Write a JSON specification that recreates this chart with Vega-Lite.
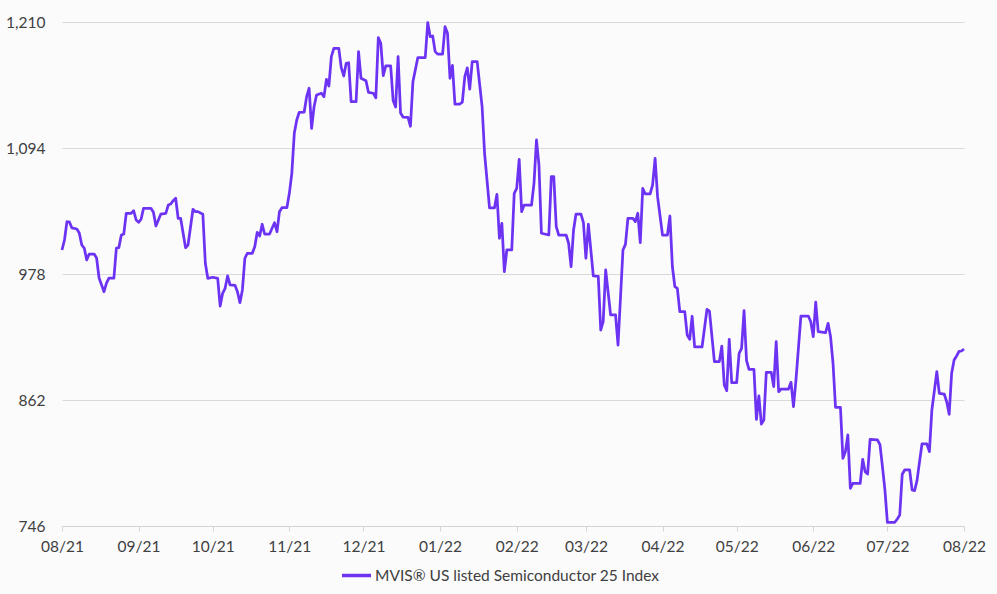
{
  "$schema": "https://vega.github.io/schema/vega-lite/v6.json",
  "width": 902,
  "height": 504,
  "autosize": {"type": "none"},
  "padding": {"left": 62, "top": 22, "right": 33, "bottom": 68},
  "background": "#fbfbfc",
  "config": {
    "view": {"stroke": null},
    "font": "Lato",
    "axis": {"labelFont": "Lato", "labelFontSize": 15.5, "labelColor": "#404040"},
    "legend": {"labelFont": "Lato", "labelFontSize": 15.5, "labelColor": "#404040", "labelLimit": 500}
  },
  "data": {
    "values": [
      {"date": "2021-08-01", "value": 1000.1},
      {"date": "2021-08-02", "value": 1009.3},
      {"date": "2021-08-03", "value": 1026.1},
      {"date": "2021-08-04", "value": 1025.9},
      {"date": "2021-08-05", "value": 1020.4},
      {"date": "2021-08-07", "value": 1019.4},
      {"date": "2021-08-08", "value": 1015.7},
      {"date": "2021-08-09", "value": 1004.7},
      {"date": "2021-08-10", "value": 1001.9},
      {"date": "2021-08-11", "value": 990.9},
      {"date": "2021-08-12", "value": 996.4},
      {"date": "2021-08-14", "value": 996.4},
      {"date": "2021-08-15", "value": 992.7},
      {"date": "2021-08-16", "value": 974.3},
      {"date": "2021-08-18", "value": 961.7},
      {"date": "2021-08-19", "value": 969.7},
      {"date": "2021-08-20", "value": 974.3},
      {"date": "2021-08-22", "value": 974.3},
      {"date": "2021-08-23", "value": 1001.9},
      {"date": "2021-08-24", "value": 1002.2},
      {"date": "2021-08-25", "value": 1013.9},
      {"date": "2021-08-26", "value": 1014.8},
      {"date": "2021-08-27", "value": 1033.9},
      {"date": "2021-08-29", "value": 1033.9},
      {"date": "2021-08-30", "value": 1036.3},
      {"date": "2021-08-31", "value": 1027.7},
      {"date": "2021-09-01", "value": 1025.6},
      {"date": "2021-09-02", "value": 1028.4},
      {"date": "2021-09-03", "value": 1038.5},
      {"date": "2021-09-06", "value": 1038.5},
      {"date": "2021-09-07", "value": 1034.8},
      {"date": "2021-09-08", "value": 1022.2},
      {"date": "2021-09-09", "value": 1027.7},
      {"date": "2021-09-10", "value": 1033.2},
      {"date": "2021-09-12", "value": 1033.9},
      {"date": "2021-09-13", "value": 1041.5},
      {"date": "2021-09-14", "value": 1042.4},
      {"date": "2021-09-15", "value": 1045.5},
      {"date": "2021-09-16", "value": 1047.7},
      {"date": "2021-09-17", "value": 1029.3},
      {"date": "2021-09-18", "value": 1029.3},
      {"date": "2021-09-20", "value": 1002.2},
      {"date": "2021-09-21", "value": 1004.7},
      {"date": "2021-09-23", "value": 1037.6},
      {"date": "2021-09-24", "value": 1035.4},
      {"date": "2021-09-25", "value": 1035.4},
      {"date": "2021-09-27", "value": 1033.0},
      {"date": "2021-09-28", "value": 987.9},
      {"date": "2021-09-29", "value": 974.0},
      {"date": "2021-10-01", "value": 975.0},
      {"date": "2021-10-03", "value": 974.0},
      {"date": "2021-10-04", "value": 948.5},
      {"date": "2021-10-05", "value": 960.2},
      {"date": "2021-10-06", "value": 964.8},
      {"date": "2021-10-07", "value": 976.2},
      {"date": "2021-10-08", "value": 967.9},
      {"date": "2021-10-10", "value": 967.6},
      {"date": "2021-10-11", "value": 961.7},
      {"date": "2021-10-12", "value": 951.6},
      {"date": "2021-10-13", "value": 963.3},
      {"date": "2021-10-14", "value": 992.5},
      {"date": "2021-10-15", "value": 997.1},
      {"date": "2021-10-17", "value": 997.1},
      {"date": "2021-10-18", "value": 1003.1},
      {"date": "2021-10-19", "value": 1016.4},
      {"date": "2021-10-20", "value": 1013.0},
      {"date": "2021-10-21", "value": 1023.8},
      {"date": "2021-10-22", "value": 1014.8},
      {"date": "2021-10-24", "value": 1014.8},
      {"date": "2021-10-25", "value": 1020.1},
      {"date": "2021-10-26", "value": 1025.2},
      {"date": "2021-10-27", "value": 1016.9},
      {"date": "2021-10-28", "value": 1035.4},
      {"date": "2021-10-29", "value": 1039.0},
      {"date": "2021-10-31", "value": 1039.0},
      {"date": "2021-11-01", "value": 1052.3},
      {"date": "2021-11-02", "value": 1070.7},
      {"date": "2021-11-03", "value": 1107.5},
      {"date": "2021-11-04", "value": 1119.8},
      {"date": "2021-11-05", "value": 1126.9},
      {"date": "2021-11-07", "value": 1127.1},
      {"date": "2021-11-08", "value": 1141.2},
      {"date": "2021-11-09", "value": 1149.0},
      {"date": "2021-11-10", "value": 1112.1},
      {"date": "2021-11-11", "value": 1132.0},
      {"date": "2021-11-12", "value": 1142.8},
      {"date": "2021-11-14", "value": 1144.4},
      {"date": "2021-11-15", "value": 1141.2},
      {"date": "2021-11-16", "value": 1157.2},
      {"date": "2021-11-17", "value": 1151.1},
      {"date": "2021-11-18", "value": 1178.1},
      {"date": "2021-11-19", "value": 1185.8},
      {"date": "2021-11-21", "value": 1185.8},
      {"date": "2021-11-22", "value": 1168.0},
      {"date": "2021-11-23", "value": 1160.3},
      {"date": "2021-11-24", "value": 1172.0},
      {"date": "2021-11-25", "value": 1172.5},
      {"date": "2021-11-26", "value": 1136.6},
      {"date": "2021-11-28", "value": 1136.6},
      {"date": "2021-11-29", "value": 1182.7},
      {"date": "2021-11-30", "value": 1158.2},
      {"date": "2021-12-02", "value": 1156.0},
      {"date": "2021-12-03", "value": 1145.3},
      {"date": "2021-12-05", "value": 1144.4},
      {"date": "2021-12-06", "value": 1140.3},
      {"date": "2021-12-07", "value": 1195.7},
      {"date": "2021-12-08", "value": 1190.4},
      {"date": "2021-12-09", "value": 1160.7},
      {"date": "2021-12-10", "value": 1169.5},
      {"date": "2021-12-12", "value": 1169.5},
      {"date": "2021-12-13", "value": 1137.7},
      {"date": "2021-12-14", "value": 1131.7},
      {"date": "2021-12-15", "value": 1178.2},
      {"date": "2021-12-16", "value": 1126.2},
      {"date": "2021-12-17", "value": 1122.5},
      {"date": "2021-12-19", "value": 1122.3},
      {"date": "2021-12-20", "value": 1114.0},
      {"date": "2021-12-21", "value": 1155.0},
      {"date": "2021-12-23", "value": 1177.3},
      {"date": "2021-12-26", "value": 1177.3},
      {"date": "2021-12-27", "value": 1209.5},
      {"date": "2021-12-28", "value": 1196.5},
      {"date": "2021-12-29", "value": 1197.1},
      {"date": "2021-12-30", "value": 1182.7},
      {"date": "2021-12-31", "value": 1180.4},
      {"date": "2022-01-02", "value": 1180.4},
      {"date": "2022-01-03", "value": 1205.7},
      {"date": "2022-01-04", "value": 1199.6},
      {"date": "2022-01-05", "value": 1158.2},
      {"date": "2022-01-06", "value": 1170.0},
      {"date": "2022-01-07", "value": 1134.3},
      {"date": "2022-01-09", "value": 1134.5},
      {"date": "2022-01-10", "value": 1136.3},
      {"date": "2022-01-11", "value": 1159.8},
      {"date": "2022-01-12", "value": 1167.8},
      {"date": "2022-01-13", "value": 1148.3},
      {"date": "2022-01-14", "value": 1173.5},
      {"date": "2022-01-16", "value": 1173.5},
      {"date": "2022-01-18", "value": 1132.0},
      {"date": "2022-01-19", "value": 1089.1},
      {"date": "2022-01-21", "value": 1038.8},
      {"date": "2022-01-23", "value": 1038.8},
      {"date": "2022-01-24", "value": 1051.4},
      {"date": "2022-01-25", "value": 1010.9},
      {"date": "2022-01-26", "value": 1024.7},
      {"date": "2022-01-27", "value": 980.1},
      {"date": "2022-01-28", "value": 1000.1},
      {"date": "2022-01-30", "value": 1000.1},
      {"date": "2022-01-31", "value": 1052.3},
      {"date": "2022-02-01", "value": 1056.9},
      {"date": "2022-02-02", "value": 1083.6},
      {"date": "2022-02-03", "value": 1035.4},
      {"date": "2022-02-04", "value": 1041.5},
      {"date": "2022-02-07", "value": 1041.5},
      {"date": "2022-02-08", "value": 1061.5},
      {"date": "2022-02-09", "value": 1101.4},
      {"date": "2022-02-10", "value": 1078.4},
      {"date": "2022-02-11", "value": 1015.5},
      {"date": "2022-02-14", "value": 1013.9},
      {"date": "2022-02-15", "value": 1067.6},
      {"date": "2022-02-16", "value": 1067.6},
      {"date": "2022-02-17", "value": 1021.6},
      {"date": "2022-02-18", "value": 1013.9},
      {"date": "2022-02-21", "value": 1013.9},
      {"date": "2022-02-22", "value": 1006.3},
      {"date": "2022-02-23", "value": 984.7},
      {"date": "2022-02-24", "value": 1018.5},
      {"date": "2022-02-25", "value": 1033.2},
      {"date": "2022-02-27", "value": 1033.2},
      {"date": "2022-02-28", "value": 1025.2},
      {"date": "2022-03-01", "value": 992.5},
      {"date": "2022-03-02", "value": 1023.8},
      {"date": "2022-03-04", "value": 976.2},
      {"date": "2022-03-06", "value": 975.9},
      {"date": "2022-03-07", "value": 926.4},
      {"date": "2022-03-08", "value": 934.1},
      {"date": "2022-03-09", "value": 981.7},
      {"date": "2022-03-11", "value": 940.3},
      {"date": "2022-03-13", "value": 940.3},
      {"date": "2022-03-14", "value": 912.6},
      {"date": "2022-03-16", "value": 1000.1},
      {"date": "2022-03-17", "value": 1005.3},
      {"date": "2022-03-18", "value": 1029.3},
      {"date": "2022-03-20", "value": 1029.3},
      {"date": "2022-03-21", "value": 1026.2},
      {"date": "2022-03-22", "value": 1033.9},
      {"date": "2022-03-23", "value": 1006.8},
      {"date": "2022-03-24", "value": 1056.9},
      {"date": "2022-03-25", "value": 1051.7},
      {"date": "2022-03-27", "value": 1051.7},
      {"date": "2022-03-28", "value": 1060.0},
      {"date": "2022-03-29", "value": 1084.5},
      {"date": "2022-03-30", "value": 1049.2},
      {"date": "2022-04-01", "value": 1013.9},
      {"date": "2022-04-03", "value": 1013.9},
      {"date": "2022-04-04", "value": 1031.4},
      {"date": "2022-04-05", "value": 984.7},
      {"date": "2022-04-06", "value": 966.3},
      {"date": "2022-04-07", "value": 964.8},
      {"date": "2022-04-08", "value": 943.3},
      {"date": "2022-04-10", "value": 943.3},
      {"date": "2022-04-11", "value": 921.8},
      {"date": "2022-04-12", "value": 917.9},
      {"date": "2022-04-13", "value": 939.1},
      {"date": "2022-04-14", "value": 910.8},
      {"date": "2022-04-17", "value": 910.8},
      {"date": "2022-04-19", "value": 945.5},
      {"date": "2022-04-20", "value": 943.8},
      {"date": "2022-04-22", "value": 897.3},
      {"date": "2022-04-24", "value": 897.3},
      {"date": "2022-04-25", "value": 911.7},
      {"date": "2022-04-26", "value": 875.8},
      {"date": "2022-04-27", "value": 870.6},
      {"date": "2022-04-28", "value": 917.9},
      {"date": "2022-04-29", "value": 877.9},
      {"date": "2022-05-01", "value": 877.9},
      {"date": "2022-05-02", "value": 905.0},
      {"date": "2022-05-03", "value": 909.6},
      {"date": "2022-05-04", "value": 944.2},
      {"date": "2022-05-05", "value": 898.2},
      {"date": "2022-05-06", "value": 890.3},
      {"date": "2022-05-08", "value": 890.3},
      {"date": "2022-05-09", "value": 844.2},
      {"date": "2022-05-10", "value": 865.7},
      {"date": "2022-05-11", "value": 839.9},
      {"date": "2022-05-12", "value": 843.6},
      {"date": "2022-05-13", "value": 887.5},
      {"date": "2022-05-15", "value": 887.5},
      {"date": "2022-05-16", "value": 874.3},
      {"date": "2022-05-17", "value": 915.7},
      {"date": "2022-05-18", "value": 869.6},
      {"date": "2022-05-19", "value": 872.1},
      {"date": "2022-05-22", "value": 872.1},
      {"date": "2022-05-23", "value": 878.3},
      {"date": "2022-05-24", "value": 855.8},
      {"date": "2022-05-25", "value": 880.4},
      {"date": "2022-05-27", "value": 939.3},
      {"date": "2022-05-30", "value": 939.3},
      {"date": "2022-05-31", "value": 934.1},
      {"date": "2022-06-01", "value": 920.3},
      {"date": "2022-06-02", "value": 952.0},
      {"date": "2022-06-03", "value": 924.9},
      {"date": "2022-06-06", "value": 924.0},
      {"date": "2022-06-07", "value": 932.6},
      {"date": "2022-06-08", "value": 920.3},
      {"date": "2022-06-09", "value": 895.8},
      {"date": "2022-06-10", "value": 855.3},
      {"date": "2022-06-12", "value": 855.3},
      {"date": "2022-06-13", "value": 808.3},
      {"date": "2022-06-14", "value": 814.4},
      {"date": "2022-06-15", "value": 829.8},
      {"date": "2022-06-16", "value": 780.7},
      {"date": "2022-06-17", "value": 785.3},
      {"date": "2022-06-20", "value": 785.3},
      {"date": "2022-06-21", "value": 807.4},
      {"date": "2022-06-22", "value": 796.0},
      {"date": "2022-06-23", "value": 793.9},
      {"date": "2022-06-24", "value": 825.8},
      {"date": "2022-06-27", "value": 825.2},
      {"date": "2022-06-28", "value": 821.0},
      {"date": "2022-06-29", "value": 800.6},
      {"date": "2022-06-30", "value": 779.2},
      {"date": "2022-07-01", "value": 749.4},
      {"date": "2022-07-04", "value": 749.4},
      {"date": "2022-07-05", "value": 752.5},
      {"date": "2022-07-06", "value": 756.1},
      {"date": "2022-07-07", "value": 793.6},
      {"date": "2022-07-08", "value": 797.6},
      {"date": "2022-07-10", "value": 797.6},
      {"date": "2022-07-11", "value": 779.2},
      {"date": "2022-07-12", "value": 778.5},
      {"date": "2022-07-13", "value": 788.0},
      {"date": "2022-07-14", "value": 805.0},
      {"date": "2022-07-15", "value": 821.5},
      {"date": "2022-07-17", "value": 821.5},
      {"date": "2022-07-18", "value": 814.4},
      {"date": "2022-07-19", "value": 852.8},
      {"date": "2022-07-20", "value": 870.3},
      {"date": "2022-07-21", "value": 888.1},
      {"date": "2022-07-22", "value": 868.2},
      {"date": "2022-07-24", "value": 867.5},
      {"date": "2022-07-25", "value": 860.4},
      {"date": "2022-07-26", "value": 848.8},
      {"date": "2022-07-27", "value": 886.6},
      {"date": "2022-07-28", "value": 898.8},
      {"date": "2022-07-29", "value": 902.5},
      {"date": "2022-07-30", "value": 906.7},
      {"date": "2022-07-31", "value": 907.1},
      {"date": "2022-08-01", "value": 909.0}
    ]
  },
  "mark": {"type": "line", "strokeWidth": 2.75, "strokeJoin": "round", "clip": false},
  "encoding": {
    "x": {
      "field": "date",
      "type": "temporal",
      "scale": {
        "type": "utc",
        "domain": [
          {"year": 2021, "month": 8, "date": 1, "utc": true},
          {"year": 2022, "month": 8, "date": 1, "utc": true}
        ],
        "nice": false
      },
      "axis": {
        "title": null,
        "format": "%m/%y",
        "tickCount": {"interval": "month", "step": 1},
        "grid": false,
        "domain": true,
        "domainColor": "#d4d4d4",
        "domainWidth": 1,
        "ticks": true,
        "tickColor": "#d4d4d4",
        "tickSize": 5,
        "labelPadding": 8,
        "labelFlush": false,
        "labelOverlap": false
      }
    },
    "y": {
      "field": "value",
      "type": "quantitative",
      "scale": {"domain": [746, 1210], "nice": false, "zero": false},
      "axis": {
        "title": null,
        "values": [746, 862, 978, 1094, 1210],
        "format": ",d",
        "grid": true,
        "gridColor": "#d9d9d9",
        "gridWidth": 1,
        "domain": false,
        "ticks": false,
        "labelPadding": 17
      }
    },
    "color": {
      "datum": "MVIS® US listed Semiconductor 25 Index",
      "type": "nominal",
      "scale": {"range": ["#6d33f2"]},
      "legend": {
        "title": null,
        "orient": "none",
        "legendX": 278,
        "legendY": 537,
        "direction": "horizontal",
        "symbolType": "stroke",
        "symbolSize": 841,
        "symbolStrokeWidth": 3.5,
        "labelOffset": 2,
        "padding": 0
      }
    }
  }
}
